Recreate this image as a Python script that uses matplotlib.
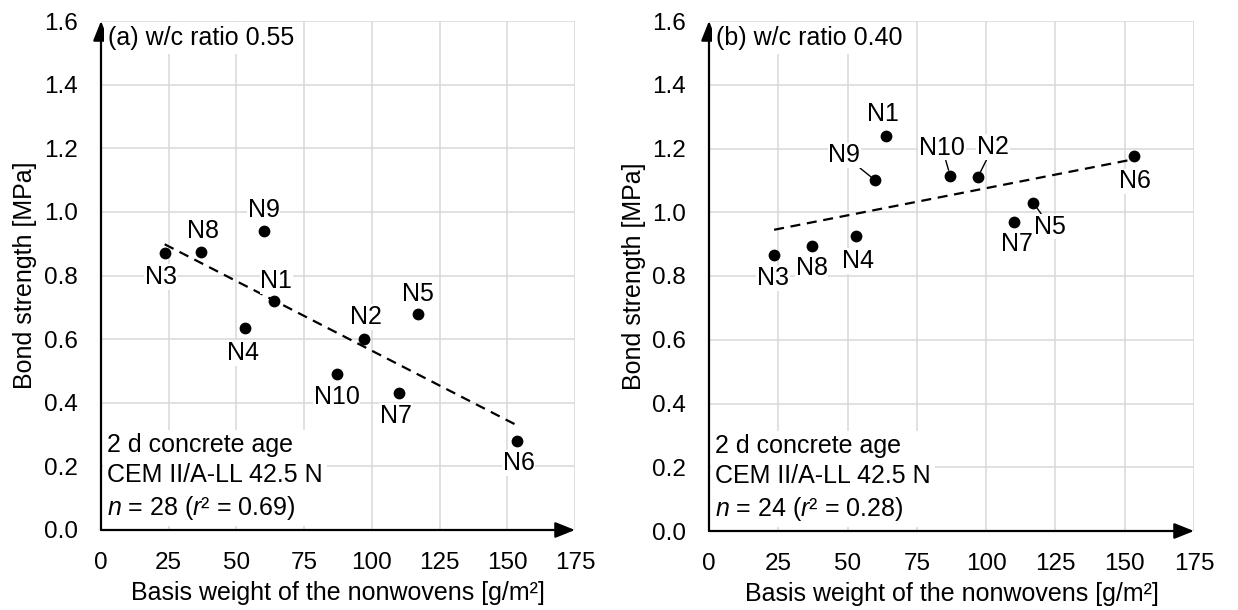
import numpy as np
import matplotlib
matplotlib.use("Agg")
import matplotlib.pyplot as plt

plt.rcParams['font.family'] = ['Liberation Sans', 'DejaVu Sans']
plt.rcParams['mathtext.fontset'] = 'custom'
plt.rcParams['mathtext.rm'] = 'Liberation Sans'
plt.rcParams['mathtext.it'] = 'Liberation Sans:italic'

# ---------------- data ----------------
nonwovens = ['N1', 'N2', 'N3', 'N4', 'N5', 'N6', 'N7', 'N8', 'N9', 'N10']
basis_weight = [64, 97, 23.5, 53, 117, 153.5, 110, 37, 60, 87]
strength_055 = [0.72, 0.60, 0.87, 0.635, 0.68, 0.28, 0.43, 0.875, 0.94, 0.49]
strength_040 = [1.24, 1.11, 0.865, 0.925, 1.03, 1.175, 0.97, 0.895, 1.10, 1.115]
# regression lines (slope, intercept) of the full data sets
trend_055 = [-0.004375, 1.001]
trend_040 = [0.001705, 0.905]
panel_titles = ['(a) w/c ratio 0.55', '(b) w/c ratio 0.40']
info_texts = ['2 d concrete age\nCEM II/A-LL 42.5 N\n$n$ = 28 ($r$² = 0.69)',
              '2 d concrete age\nCEM II/A-LL 42.5 N\n$n$ = 24 ($r$² = 0.28)']
x_ticks = [0, 25, 50, 75, 100, 125, 150, 175]
y_ticks = [0.0, 0.2, 0.4, 0.6, 0.8, 1.0, 1.2, 1.4, 1.6]
x_label = 'Basis weight of the nonwovens [g/m²]'
y_label = 'Bond strength [MPa]'

# ---------------- label placement (pixels) ----------------
offsets_a = {'N1': (2, 20), 'N2': (2, 22), 'N3': (-4, -24), 'N4': (-2, -25),
             'N5': (0, 20), 'N6': (2, -22), 'N7': (-3, -23), 'N8': (2, 21),
             'N9': (0, 21), 'N10': (0, -23)}
offsets_b = {'N1': (-3, 22), 'N2': (15, 30), 'N3': (-1, -23), 'N4': (2, -25),
             'N5': (17, -24), 'N6': (1, -25), 'N7': (3, -22), 'N8': (0, -22),
             'N9': (-31, 25), 'N10': (-8, 28)}
leaders_a = set()
leaders_b = {'N2', 'N5', 'N9', 'N10'}
ylabel_px = [-64, -63]

W, H = 1238, 610
fig = plt.figure(figsize=(W / 100, H / 100), dpi=100)
ax_a = fig.add_axes([101 / W, (H - 530) / H, (575 - 101) / W, (530 - 21) / H])
ax_b = fig.add_axes([709 / W, (H - 531) / H, (1194 - 709) / W, (531 - 21) / H])

FS = 18
panels = [(ax_a, strength_055, trend_055, offsets_a, leaders_a, 0),
          (ax_b, strength_040, trend_040, offsets_b, leaders_b, 1)]

for ax, ys, trend, offs, leaders, i in panels:
    ax.set_xlim(0, 175)
    ax.set_ylim(0, 1.6)
    ax.set_xticks(x_ticks)
    ax.set_yticks(y_ticks)
    ax.set_xticklabels([str(t) for t in x_ticks])
    ax.set_yticklabels([f'{t:.1f}' for t in y_ticks])
    ax.tick_params(length=0, labelsize=17.5, colors='#000000')
    ax.tick_params(axis='y', pad=16.5)
    ax.tick_params(axis='x', pad=15.5)
    ax.grid(True, color='#d9d9d9', lw=1.1, zorder=0)
    ax.set_axisbelow(True)
    for s in ax.spines.values():
        s.set_visible(False)
    ax.set_xlabel(x_label, fontsize=FS)
    ax.set_ylabel(y_label, fontsize=FS)
    ax.yaxis.set_label_coords(ylabel_px[i] / ax.bbox.width, 0.5)
    ax.xaxis.set_label_coords(0.5, -51 / ax.bbox.height)

    # axes with arrows
    arrow_kw = dict(arrowstyle='-|>,head_length=1.2,head_width=0.48', lw=1.6,
                    color='black', shrinkA=0, shrinkB=0, mutation_scale=10)
    ax.annotate('', xy=(1, 0), xytext=(0, 0), xycoords='axes fraction',
                arrowprops=arrow_kw, zorder=5, annotation_clip=False)
    ax.annotate('', xy=(0, 1), xytext=(0, 0), xycoords='axes fraction',
                arrowprops=arrow_kw, zorder=5, annotation_clip=False)

    # trend line
    xs = np.array([min(basis_weight), max(basis_weight)])
    ax.plot(xs, np.polyval(trend, xs), color='black', lw=1.6,
            dashes=(4.5, 3), zorder=3)

    # points
    ax.scatter(basis_weight, ys, s=72, color='black', zorder=4, linewidths=0)

    # labels
    for name, x, y in zip(nonwovens, basis_weight, ys):
        dx, dy = offs[name]
        kw = dict(xy=(x, y), xytext=(dx, dy), textcoords='offset pixels',
                  ha='center', va='center', fontsize=FS, zorder=6,
                  bbox=dict(fc='white', ec='none', pad=0.5))
        if name in leaders:
            kw['arrowprops'] = dict(arrowstyle='-', lw=1.0, color='black',
                                    shrinkA=0, shrinkB=4)
        ax.annotate(name, **kw)

    # title
    ax.text(7 / ax.bbox.width, 0.967, panel_titles[i], transform=ax.transAxes,
            ha='left', va='center', fontsize=FS, zorder=6,
            bbox=dict(fc='white', ec='none', pad=3))
    # info box
    ax.text(6 / ax.bbox.width, 0.016, info_texts[i], transform=ax.transAxes,
            ha='left', va='bottom', fontsize=FS, linespacing=1.33, zorder=6,
            bbox=dict(fc='white', ec='none', pad=3))

fig.savefig('out.png', dpi=100)
